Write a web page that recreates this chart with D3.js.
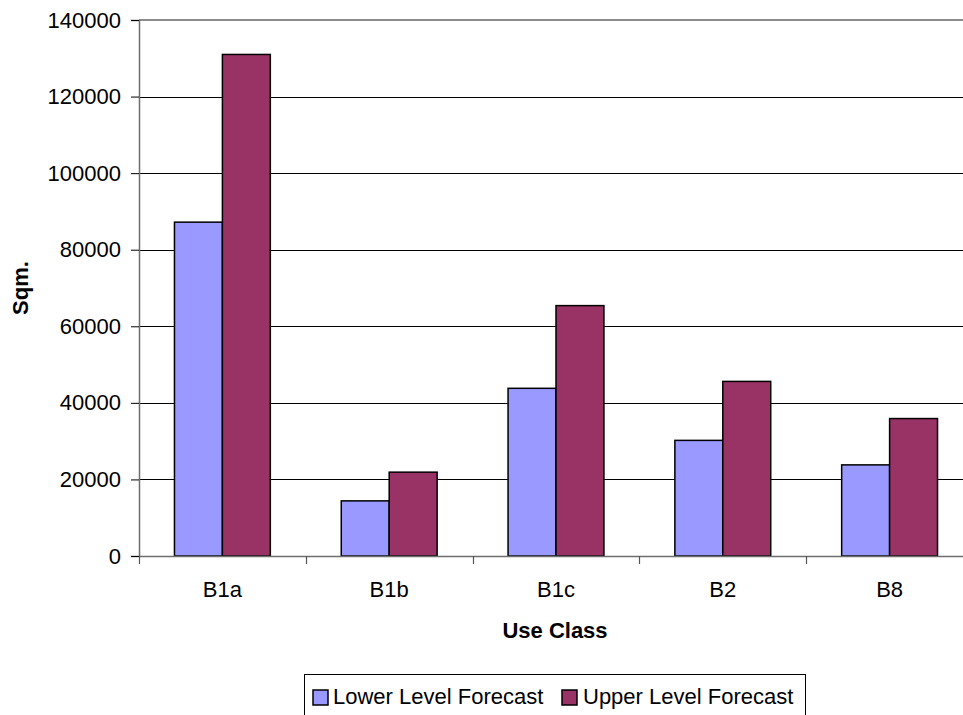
<!DOCTYPE html>
<html>
<head>
<meta charset="utf-8">
<script src="https://cdn.jsdelivr.net/npm/d3@7"></script>
<style>
  html, body { margin: 0; padding: 0; background: #fff; }
  svg { display: block; font-family: "Liberation Sans", Arial, sans-serif; }
</style>
</head>
<body>
<svg id="chart" width="963" height="715"></svg>
<script>
// Floorspace forecasts by use class (square metres)
const categories = ["B1a", "B1b", "B1c", "B2", "B8"];
const seriesNames = ["Lower Level Forecast", "Upper Level Forecast"];
const lowerValues = [87200, 14400, 43800, 30200, 23800];
const upperValues = [131000, 21900, 65400, 45600, 35900];
const yTicks = [0, 20000, 40000, 60000, 80000, 100000, 120000, 140000];
const colors = ["#9999FF", "#993366"];

const FONT = 22;
const svg = d3.select("#chart");
const plot = { left: 139, right: 973, top: 20, bottom: 556 };

const x0 = d3.scaleBand()
  .domain(categories)
  .range([plot.left, plot.right])
  .padding(0);

const x1 = d3.scaleBand()
  .domain(seriesNames)
  .range([0, x0.bandwidth()])
  .paddingInner(0)
  .paddingOuter(0.74);

const y = d3.scaleLinear()
  .domain([0, 140000])
  .range([plot.bottom, plot.top]);

// Horizontal gridlines
svg.append("g")
  .selectAll("line")
  .data(yTicks.filter(t => t > 0 && t < 140000))
  .join("line")
  .attr("x1", plot.left)
  .attr("x2", plot.right)
  .attr("y1", d => Math.round(y(d)) + 0.5)
  .attr("y2", d => Math.round(y(d)) + 0.5)
  .attr("stroke", "#000")
  .attr("stroke-width", 1);

// Plot area top border
svg.append("line")
  .attr("x1", plot.left).attr("x2", plot.right)
  .attr("y1", y(140000)).attr("y2", y(140000))
  .attr("stroke", "#8c8c8c")
  .attr("stroke-width", 2);

// Bars
const data = categories.map((c, i) => ({
  cat: c,
  values: [
    { name: seriesNames[0], v: lowerValues[i], c: colors[0] },
    { name: seriesNames[1], v: upperValues[i], c: colors[1] }
  ]
}));

svg.append("g")
  .selectAll("g")
  .data(data)
  .join("g")
  .attr("transform", d => `translate(${x0(d.cat)},0)`)
  .selectAll("rect")
  .data(d => d.values)
  .join("rect")
  .attr("x", d => x1(d.name))
  .attr("width", x1.bandwidth())
  .attr("y", d => y(d.v))
  .attr("height", d => y(0) - y(d.v))
  .attr("fill", d => d.c)
  .attr("stroke", "#000")
  .attr("stroke-width", 1.5);

// Y axis
const yAxis = svg.append("g")
  .attr("transform", `translate(${plot.left},0)`)
  .call(d3.axisLeft(y).tickValues(yTicks).tickFormat(d3.format("d")).tickSize(8).tickPadding(10));
yAxis.select(".domain").attr("stroke", "#6e6e6e").attr("stroke-width", 1.5);
yAxis.selectAll(".tick line").attr("stroke", "#000");
yAxis.selectAll("text")
  .attr("font-size", FONT)
  .attr("fill", "#000")
  .attr("font-family", "Liberation Sans, Arial, sans-serif");

// X axis
const xAxis = svg.append("g")
  .attr("transform", `translate(0,${plot.bottom})`)
  .call(d3.axisBottom(x0).tickSize(0).tickPadding(25));
xAxis.select(".domain").attr("stroke", "#6e6e6e").attr("stroke-width", 1.5);
xAxis.selectAll("text")
  .attr("font-size", FONT)
  .attr("fill", "#000")
  .attr("font-family", "Liberation Sans, Arial, sans-serif");

// Category separators below the axis
svg.append("g")
  .selectAll("line")
  .data(categories.map(c => x0(c)).concat([plot.right]))
  .join("line")
  .attr("x1", d => Math.round(d) + 0.5)
  .attr("x2", d => Math.round(d) + 0.5)
  .attr("y1", plot.bottom)
  .attr("y2", plot.bottom + 8)
  .attr("stroke", "#555")
  .attr("stroke-width", 1.2);

// Axis titles
svg.append("text")
  .attr("x", 555)
  .attr("y", 638)
  .attr("text-anchor", "middle")
  .attr("font-size", FONT)
  .attr("font-weight", "bold")
  .text("Use Class");

svg.append("text")
  .attr("transform", `translate(28,${(plot.top + plot.bottom) / 2}) rotate(-90)`)
  .attr("text-anchor", "middle")
  .attr("font-size", FONT)
  .attr("font-weight", "bold")
  .text("Sqm.");

// Legend
const legend = svg.append("g");
legend.append("rect")
  .attr("x", 304.5).attr("y", 674.5)
  .attr("width", 501).attr("height", 44)
  .attr("fill", "#fff")
  .attr("stroke", "#000")
  .attr("stroke-width", 1);

const legendItems = [
  { name: seriesNames[0], c: colors[0], sx: 313, tx: 333 },
  { name: seriesNames[1], c: colors[1], sx: 562, tx: 583 }
];
const li = legend.selectAll("g.item")
  .data(legendItems)
  .join("g")
  .attr("class", "item");
li.append("rect")
  .attr("x", d => d.sx).attr("y", 690)
  .attr("width", 15).attr("height", 15)
  .attr("fill", d => d.c)
  .attr("stroke", "#000")
  .attr("stroke-width", 1.5);
li.append("text")
  .attr("x", d => d.tx).attr("y", 704)
  .attr("font-size", FONT)
  .text(d => d.name);
</script>
</body>
</html>
